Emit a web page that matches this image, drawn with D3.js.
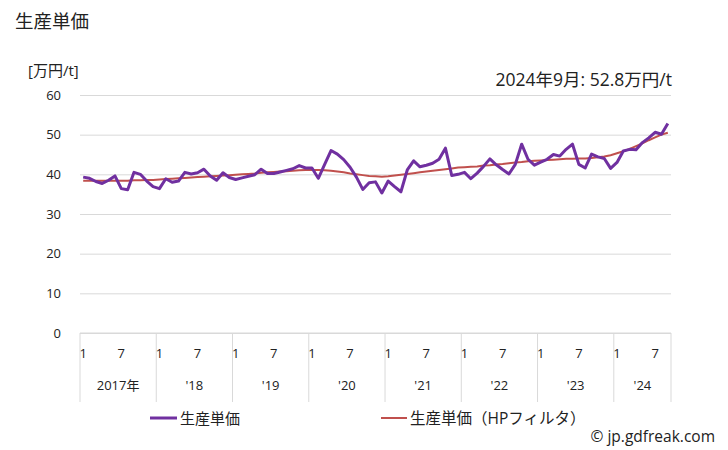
<!DOCTYPE html>
<html><head><meta charset="utf-8">
<script src="https://cdn.jsdelivr.net/npm/d3@7"></script>
<style>
body{margin:0;background:#fff;}
text{font-family:"Open Sans","Noto Sans CJK JP",sans-serif;fill:#222;}
</style></head>
<body><svg id="c" width="728" height="450"></svg>
<script>
const years = ["2017年","'18","'19","'20","'21","'22","'23","'24"];
const monthTicks = ["1","7"];
const yTicks = [0,10,20,30,40,50,60];
const priceValues = [
 39.3,39.0,38.2,37.7,38.5,39.6,36.4,36.1,40.5,40.0,38.3,36.9,
 36.4,38.9,38.0,38.3,40.5,40.1,40.4,41.3,39.6,38.5,40.4,39.2,
 38.7,39.1,39.5,39.9,41.3,40.2,40.2,40.6,41.0,41.4,42.2,41.6,
 41.6,39.0,42.5,46.0,45.1,43.7,41.8,39.3,36.2,37.9,38.1,35.3,
 38.3,36.9,35.6,41.1,43.4,41.9,42.3,42.8,43.8,46.6,39.7,40.0,
 40.5,38.9,40.3,42.0,43.9,42.4,41.2,40.1,42.5,47.6,43.8,42.3,
 43.1,43.8,45.0,44.6,46.3,47.6,42.5,41.6,45.1,44.4,44.0,41.5,
 43.0,45.9,46.3,46.2,48.0,49.2,50.6,50.1,52.8
];
const hpValues = [
 38.4,38.4,38.4,38.4,38.4,38.4,38.4,38.4,38.5,38.5,38.6,38.6,
 38.7,38.8,38.9,39.0,39.1,39.2,39.3,39.4,39.5,39.6,39.7,39.8,
 39.9,40.0,40.1,40.2,40.4,40.5,40.6,40.7,40.8,40.9,41.0,41.1,
 41.1,41.1,41.0,40.9,40.7,40.5,40.2,40.0,39.8,39.6,39.5,39.4,
 39.5,39.7,39.9,40.1,40.3,40.5,40.7,40.9,41.1,41.3,41.5,41.7,
 41.8,41.9,42.0,42.2,42.3,42.5,42.6,42.8,43.0,43.1,43.3,43.4,
 43.5,43.6,43.7,43.8,43.9,43.9,44.0,44.0,44.1,44.3,44.5,44.8,
 45.3,45.8,46.4,47.1,47.8,48.6,49.3,50.0,50.5
];
const seriesNames = ["生産単価","生産単価（HPフィルタ）"];
const latestLabel = "2024年9月: 52.8万円/t";

const svg = d3.select("#c");
const L = 80, R = 671, T = 95, B = 333;
const idx = d3.range(priceValues.length);
const x = d3.scaleBand().domain(idx).range([L, R]);
const y = d3.scaleLinear().domain([0,60]).range([B, T]);
const cx = i => x(i) + x.bandwidth()/2;

// title
svg.append("text").attr("x",15).attr("y",28).attr("font-size",18.5).text("生産単価");
svg.append("text").attr("x",28).attr("y",76).attr("font-size",15).text("[万円/t]");
svg.append("text").attr("x",672).attr("y",86).attr("font-size",17.5).attr("text-anchor","end").text(latestLabel);

// gridlines & y labels
const yAxis = d3.axisLeft(y).tickValues(yTicks).tickSize(-(R-L)).tickPadding(19);
const ga = svg.append("g").attr("transform",`translate(${L},0)`).call(yAxis);
ga.select(".domain").remove();
ga.selectAll(".tick line").attr("stroke","#d9d9d9");
ga.selectAll(".tick text").attr("font-size",13).style("fill","#222").attr("font-family","'Open Sans',sans-serif");

// x axis separators
const yearStarts = years.map((_,k)=>k*12);
yearStarts.forEach(s=>{
  svg.append("line").attr("x1",x(s)).attr("x2",x(s)).attr("y1",B).attr("y2",402).attr("stroke","#d9d9d9");
});
svg.append("line").attr("x1",R).attr("x2",R).attr("y1",B).attr("y2",402).attr("stroke","#d9d9d9");
svg.append("line").attr("x1",L).attr("x2",R).attr("y1",B).attr("y2",B).attr("stroke","#d9d9d9");

// month labels
idx.forEach(i=>{
  const m = i%12;
  if(m===0 || m===6){
    svg.append("text").attr("x",cx(i)).attr("y",358).attr("font-size",13).attr("text-anchor","middle").text(monthTicks[m===0?0:1]);
  }
});
// year labels
years.forEach((yl,k)=>{
  const s = k*12, e = Math.min(s+11, idx.length-1);
  const mid = (x(s) + x(e)+x.bandwidth())/2;
  svg.append("text").attr("x",mid).attr("y",390).attr("font-size",13).attr("text-anchor","middle").text(yl);
});

// lines
const line = d3.line().x((d,i)=>cx(i)).y(d=>y(d));
svg.append("path").datum(hpValues).attr("d",line).attr("fill","none").attr("stroke","#c0504d").attr("stroke-width",2);
svg.append("path").datum(priceValues).attr("d",line).attr("fill","none").attr("stroke","#7030a0").attr("stroke-width",3).attr("stroke-linejoin","round");

// legend
svg.append("line").attr("x1",150).attr("x2",177).attr("y1",418).attr("y2",418).attr("stroke","#7030a0").attr("stroke-width",3);
svg.append("text").attr("x",180).attr("y",424).attr("font-size",15).text(seriesNames[0]);
svg.append("line").attr("x1",381).attr("x2",407).attr("y1",418).attr("y2",418).attr("stroke","#c0504d").attr("stroke-width",2);
svg.append("text").attr("x",410).attr("y",424).attr("font-size",15.5).text(seriesNames[1]);

svg.append("text").attr("x",715).attr("y",442).attr("font-size",15.5).attr("text-anchor","end").text("© jp.gdfreak.com");
</script></body></html>
